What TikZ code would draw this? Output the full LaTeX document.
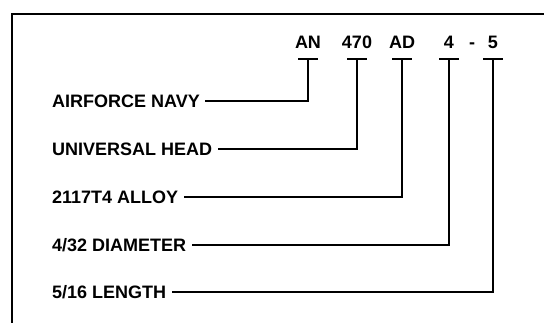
\documentclass[tikz,border=0pt]{standalone}
\usepackage{fontspec}
\setmainfont{Liberation Sans}
\usetikzlibrary{positioning}

\begin{document}
\begin{tikzpicture}[
    x=1pt, y=-1pt,
    every node/.style={inner sep=0pt, font=\fontsize{18}{20}\selectfont\bfseries, text height=13pt, text depth=0pt},
    code/.style={anchor=center},
    label/.style={anchor=west},
    lead/.style={line width=1.5pt},
    frame/.style={line width=2pt}
  ]
    \useasboundingbox (0,0) rectangle (544,323);
    \clip (0,0) rectangle (544,323);
    \draw[frame] (12,14) rectangle (580,360);

    % Code letters
    \node[code] (an) at (308,42) {AN};
    \node[code] (n470) at (357,42) {470};
    \node[code] (ad) at (402,42) {AD};
    \node[code] (d4) at (449,42) {4};
    \node[code] (dash) at (472,42) {-};
    \node[code] (d5) at (493,42) {5};

    % T marks under the code
    \foreach \c in {an,n470,ad,d4,d5} {
      \coordinate (\c-t) at ([yshift=-17pt]\c.center);
      \draw[lead] ([xshift=-10pt]\c-t) -- ([xshift=10pt]\c-t);
    }

    % Meanings
    \node[label] (navy) at (52,101) {AIRFORCE NAVY};
    \node[label] (head) at (52,149) {UNIVERSAL HEAD};
    \node[label] (alloy) at (52,197) {2117T4 ALLOY};
    \node[label] (diam) at (52,245) {4/32 DIAMETER};
    \node[label] (len) at (52,292) {5/16 LENGTH};

    % Leaders
    \draw[lead] ([xshift=5pt]navy.east) -| (an-t);
    \draw[lead] ([xshift=6pt]head.east) -| (n470-t);
    \draw[lead] ([xshift=6pt]alloy.east) -| (ad-t);
    \draw[lead] ([xshift=6pt]diam.east) -| (d4-t);
    \draw[lead] ([xshift=6pt]len.east) -| (d5-t);
\end{tikzpicture}
\end{document}
